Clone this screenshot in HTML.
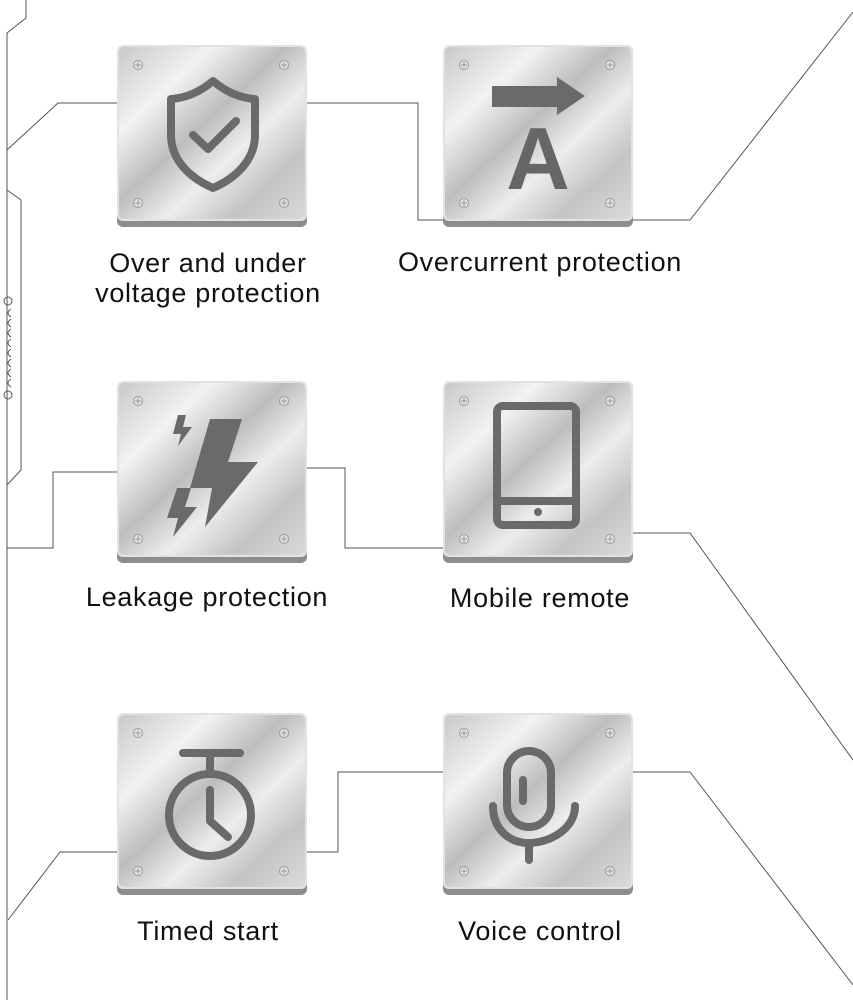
<!DOCTYPE html>
<html><head><meta charset="utf-8"><style>
html,body{margin:0;padding:0;background:#fff;}
svg{display:block}
text{font-family:"Liberation Sans",sans-serif;}
</style></head><body>
<svg width="853" height="1000" viewBox="0 0 853 1000" xmlns="http://www.w3.org/2000/svg">
<defs>
<linearGradient id="m" x1="0" y1="0" x2="1" y2="1">
<stop offset="0" stop-color="#c9c9c9"/>
<stop offset="0.25" stop-color="#f2f2f2"/>
<stop offset="0.45" stop-color="#bdbdbd"/>
<stop offset="0.62" stop-color="#ededed"/>
<stop offset="0.8" stop-color="#c4c4c4"/>
<stop offset="1" stop-color="#dadada"/>
</linearGradient>
<g id="tile">
<rect x="0" y="2" width="190" height="180" rx="6" fill="#8d8d8d"/>
<rect x="0" y="0" width="190" height="176" rx="6" fill="#e2e2e2"/>
<rect x="2" y="2" width="186" height="172" rx="5" fill="url(#m)"/>
<g fill="#e4e4e4" stroke="#9a9a9a" stroke-width="1">
<circle cx="21" cy="20" r="4.5"/><circle cx="167" cy="20" r="4.5"/>
<circle cx="21" cy="158" r="4.5"/><circle cx="167" cy="158" r="4.5"/>
</g>
<g stroke="#999" stroke-width="1">
<path d="M18 20h6M21 17v6M164 20h6M167 17v6M18 158h6M21 155v6M164 158h6M167 155v6"/>
</g>
</g>
</defs>
<g fill="none" stroke="#555" stroke-width="1">
<path d="M26 0V18L7 33V1000"/>
<path d="M7 150L58 103H117"/>
<path d="M7 190L21 200V470L7 485"/>
<path d="M7 548H53V472H117"/>
<path d="M306 103H418V220H443"/>
<path d="M633 220H690L853 12"/>
<path d="M306 468H345V548H443"/>
<path d="M633 533H690L853 760"/>
<path d="M117 852H60L8 920"/>
<path d="M306 852H338V772H443"/>
<path d="M633 772H690L853 985"/>
</g>
<g fill="none" stroke="#555" stroke-width="1">
<circle cx="8" cy="301" r="4"/><circle cx="8" cy="395" r="4"/>
<path d="M11 309q-6 4 0 8M11 319q-6 4 0 8M11 329q-6 4 0 8M11 339q-6 4 0 8M11 349q-6 4 0 8M11 359q-6 4 0 8M11 369q-6 4 0 8M11 379q-6 4 0 8"/>
</g>
<use href="#tile" x="117" y="45"/>
<use href="#tile" x="443" y="45"/>
<use href="#tile" x="117" y="381"/>
<use href="#tile" x="443" y="381"/>
<use href="#tile" x="117" y="713"/>
<use href="#tile" x="443" y="713"/>
<g fill="none" stroke="#6a6a6a" stroke-width="8" stroke-linecap="round" stroke-linejoin="round">
<path d="M213 81C200 92 186 98 171 99V135C171 160 190 178 213 188C236 178 255 160 255 135V99C240 98 226 92 213 81Z"/>
<path d="M193 135L208 149L236 121"/>
<rect x="497" y="406" width="79" height="119" rx="6"/>
<path d="M497 501H576"/>
<circle cx="210" cy="815" r="41"/>
<path d="M183 753H240M210 753V773M210 790V821L228 837"/>
<rect x="507" y="751" width="44" height="76" rx="22"/>
<path d="M523 780V801"/>
<path d="M493 806C493 830 510 843 529 843C548 843 575 830 575 806M529 845V860"/>
</g>
<circle cx="538" cy="512" r="4" fill="#6a6a6a"/>
<g fill="#6a6a6a">
<path d="M492 86H557V77L585 96L557 115V107H492Z"/>
<path d="M210 419H242L228 462H258L205 527L212 488H190Z"/>
<path d="M178 415H186L183 427H192L178 446L181 434H173Z"/>
<path d="M177 488H191L185 507H197L173 537L178 518H167Z"/>
</g>
<text x="538" y="189" font-size="88" font-weight="bold" fill="#666" text-anchor="middle">A</text>
<g font-size="27" fill="#111" text-anchor="middle" letter-spacing="0.7">
<text x="208" y="272">Over and under</text>
<text x="208" y="302">voltage protection</text>
<text x="540" y="271">Overcurrent protection</text>
<text x="207" y="606">Leakage protection</text>
<text x="540" y="607">Mobile remote</text>
<text x="208" y="940">Timed start</text>
<text x="540" y="940">Voice control</text>
</g>
</svg>
</body></html>
